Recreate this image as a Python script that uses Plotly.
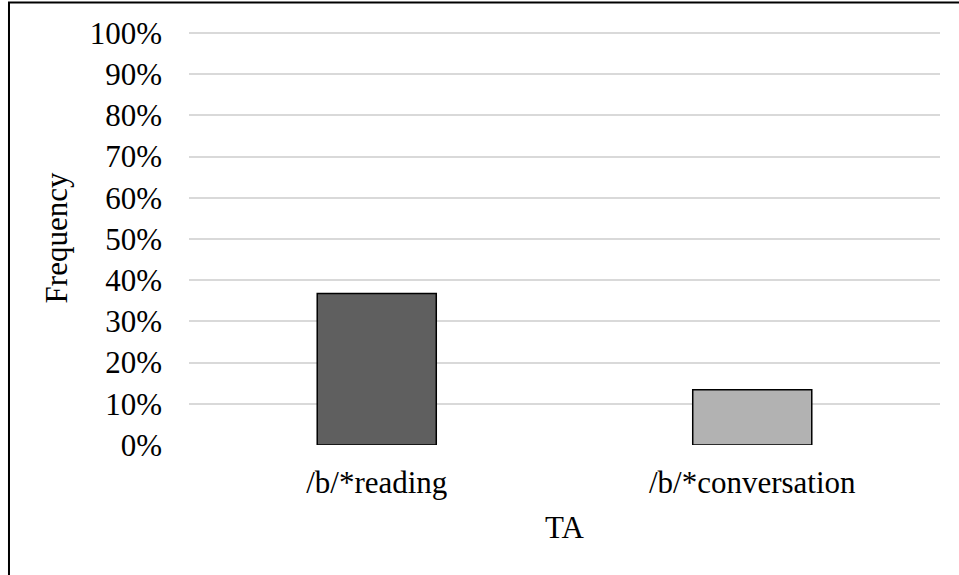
import plotly.graph_objects as go

categories = ["/b/*reading", "/b/*conversation"]
frequency = [0.368, 0.134]
bar_colors = ["#5f5f5f", "#b2b2b2"]
tick_values = [i / 10 for i in range(11)]
tick_labels = [f"{i * 10}%" for i in range(11)]

FONT = "Liberation Serif, Times New Roman, serif"

fig = go.Figure(
    go.Bar(
        x=categories,
        y=frequency,
        marker=dict(color=bar_colors, line=dict(color="black", width=1.5)),
        width=0.317,
    )
)

# plot area spans y 31..445 px; range top slightly above 1.0 so the 100% gridline shows
fig.update_layout(
    width=959,
    height=575,
    margin=dict(l=189, r=19, t=31, b=130),
    paper_bgcolor="white",
    plot_bgcolor="white",
    font=dict(family=FONT, size=31, color="black"),
    showlegend=False,
    shapes=[
        # outer chart frame
        dict(
            type="rect", xref="paper", yref="paper",
            x0=-0.2397, x1=1.5, y0=-1.0, y1=1.0688,
            line=dict(color="black", width=2), fillcolor="rgba(0,0,0,0)",
            layer="above",
        )
    ],
)

fig.update_xaxes(
    title=dict(text="TA", standoff=17, font=dict(size=31)),
    showline=False,
    showgrid=False,
    ticks="",
    ticklabelstandoff=16,
)

fig.update_yaxes(
    title=dict(text="Frequency", standoff=12, font=dict(size=31)),
    range=[0, 1.005],
    tickvals=tick_values,
    ticktext=tick_labels,
    showgrid=True,
    gridcolor="#d9d9d9",
    gridwidth=1.5,
    zeroline=False,
    showline=False,
    ticks="",
    ticklabelstandoff=26,
)

fig.write_html("out.html")
